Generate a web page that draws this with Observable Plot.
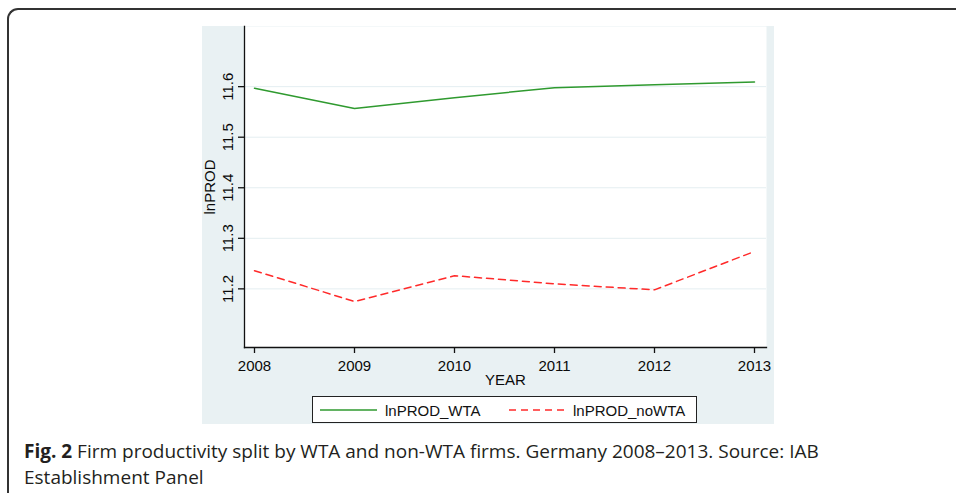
<!DOCTYPE html>
<html>
<head>
<meta charset="utf-8">
<script src="https://cdn.jsdelivr.net/npm/d3@7"></script>
<script src="https://cdn.jsdelivr.net/npm/@observablehq/plot@0.6"></script>
<style>
  html, body { margin: 0; padding: 0; background: #fff; }
  #page { position: relative; width: 956px; height: 493px; overflow: hidden; background: #fff; }
  #border { position: absolute; left: 7px; top: 8px; width: 1000px; height: 600px;
            border-top: 2px solid #333; border-left: 2px solid #333; border-top-left-radius: 11px; }
  #graph { position: absolute; left: 202px; top: 26px; width: 572px; height: 398px; background: #e9f1f3; }
  #chart { position: absolute; left: 0; top: 0; }
  #legend { position: absolute; left: 110px; top: 370px; width: 383px; height: 25px;
            border: 1.5px solid #222; background: #fff; font-family: Arial, "Liberation Sans", sans-serif; font-size: 15px; color: #111; }
  #legend svg { position: absolute; left: 0; top: 0; }
  #caption { position: absolute; left: 24px; top: 438px; width: 920px; font-family: "Open Sans", sans-serif;
             font-size: 19px; line-height: 26px; color: #231f20; }
  #caption b { font-weight: 700; }
</style>
</head>
<body>
<div id="page">
  <div id="border"></div>
  <div id="graph">
    <div id="chart"></div>
    <div id="legend"></div>
  </div>
  <div id="caption"><b>Fig. 2</b> Firm productivity split by WTA and non-WTA firms. Germany 2008–2013. Source: IAB<br>Establishment Panel</div>
</div>
<script>
const years = [2008, 2009, 2010, 2011, 2012, 2013];
const lnPROD_WTA = [11.597, 11.557, 11.578, 11.598, 11.604, 11.609];
const lnPROD_noWTA = [11.236, 11.175, 11.226, 11.210, 11.198, 11.274];
const yTicks = [11.2, 11.3, 11.4, 11.5, 11.6];
const seriesNames = ["lnPROD_WTA", "lnPROD_noWTA"];
const seriesColors = ["#2f9a2f", "#ff2a2a"];

const rows = [];
years.forEach((yr, i) => {
  rows.push({year: yr, value: lnPROD_WTA[i], series: seriesNames[0]});
  rows.push({year: yr, value: lnPROD_noWTA[i], series: seriesNames[1]});
});

const font = 'Arial, "Liberation Sans", sans-serif';
const chart = Plot.plot({
  width: 572,
  height: 398,
  marginLeft: 42,
  marginRight: 8,
  marginTop: 0,
  marginBottom: 77,
  style: {background: "transparent", fontFamily: font, fontSize: "15px", color: "#0a0a0a", overflow: "visible"},
  x: {domain: [2007.9, 2013.12]},
  y: {domain: [11.084, 11.719]},
  marks: [
    Plot.frame({fill: "white", stroke: null}),
    Plot.gridY(yTicks, {stroke: "#e4eef1", strokeOpacity: 1, strokeWidth: 1}),
    Plot.line(rows.filter(d => d.series === seriesNames[0]), {x: "year", y: "value", stroke: seriesColors[0], strokeWidth: 1.5}),
    Plot.line(rows.filter(d => d.series === seriesNames[1]), {x: "year", y: "value", stroke: seriesColors[1], strokeWidth: 1.5, strokeDasharray: "7,5"}),
    Plot.frame({anchor: "left", stroke: "#111", strokeWidth: 1.3}),
    Plot.frame({anchor: "bottom", stroke: "#111", strokeWidth: 1.3}),
    Plot.axisY(yTicks, {tickSize: 6, tickPadding: 6, tickRotate: -90, tickFormat: ".1f", label: null, stroke: "#111", strokeWidth: 1.3, fontSize: 15}),
    Plot.axisX(years, {tickSize: 6, tickPadding: 7, tickFormat: "d", label: null, stroke: "#111", strokeWidth: 1.3, fontSize: 15}),
    Plot.text(["lnPROD"], {text: d => d, frameAnchor: "left", dx: -34, rotate: -90, textAnchor: "middle", lineAnchor: "middle", fontSize: 15}),
    Plot.text(["YEAR"], {text: d => d, frameAnchor: "bottom", dy: 37, lineAnchor: "bottom", fontSize: 15})
  ]
});
document.getElementById("chart").appendChild(chart);

// legend
const lg = d3.select("#legend").append("svg").attr("width", 383).attr("height", 25);
const items = [
  {name: seriesNames[0], color: seriesColors[0], dash: null, x0: 7, x1: 64, tx: 72},
  {name: seriesNames[1], color: seriesColors[1], dash: "7,5", x0: 196, x1: 251, tx: 260}
];
items.forEach(it => {
  lg.append("line").attr("x1", it.x0).attr("x2", it.x1).attr("y1", 13).attr("y2", 13)
    .attr("stroke", it.color).attr("stroke-width", 1.5).attr("stroke-dasharray", it.dash);
  lg.append("text").attr("x", it.tx).attr("y", 18.5).attr("font-family", font).attr("font-size", 15)
    .attr("fill", "#111").text(it.name);
});
</script>
</body>
</html>
